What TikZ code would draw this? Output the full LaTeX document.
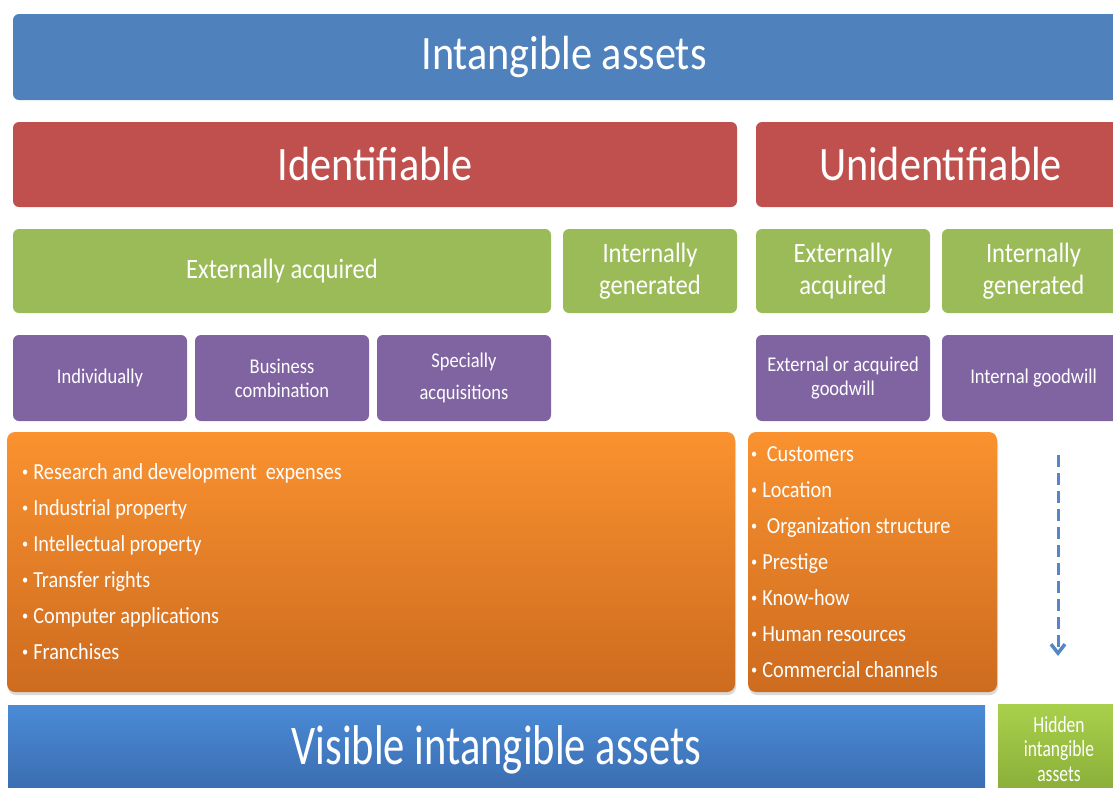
\documentclass[tikz,border=0pt]{standalone}
\usepackage{fontspec}
\setmainfont{Carlito}[FakeStretch=0.88]
\newfontfamily\narrowfont{Carlito}[FakeStretch=0.76]
\usetikzlibrary{arrows.meta,shadows}
\definecolor{titleblue}{HTML}{4F81BD}
\definecolor{groupred}{HTML}{C0504D}
\definecolor{kindgreen}{HTML}{9BBB59}
\definecolor{waypurple}{HTML}{8064A2}
\definecolor{listtop}{HTML}{FA922F}
\definecolor{listbottom}{HTML}{CD6B1F}
\definecolor{visibletop}{HTML}{4A8BD6}
\definecolor{visiblebottom}{HTML}{3A6BAE}
\definecolor{hiddentop}{HTML}{A9D04C}
\definecolor{hiddenbottom}{HTML}{89AD38}
\definecolor{arrowblue}{HTML}{5587C6}
\newcommand{\itemdot}{\raisebox{3pt}{\fontsize{14}{14}\selectfont\textbullet}\hspace{5pt}}
\begin{document}
\begin{tikzpicture}
    [
        x=1pt, y=-1pt,
        box/.style={rectangle, rounded corners=6pt, text=white, align=center, inner sep=0pt},
        group/.style={box, fill=groupred, minimum height=85pt, font=\fontsize{48}{50}\selectfont},
        kind/.style={box, fill=kindgreen, minimum height=84pt, font=\fontsize{28}{32}\selectfont},
        way/.style={box, fill=waypurple, minimum width=174pt, minimum height=86pt, font=\fontsize{21}{24}\selectfont},
        listbox/.style={box, rounded corners=8pt, top color=listtop, bottom color=listbottom, minimum height=260pt,
            drop shadow={shadow xshift=1pt, shadow yshift=-3pt, opacity=0.3}},
        items/.style={text=white, align=left, inner sep=0pt, anchor=west, font=\fontsize{23}{36}\selectfont},
        hidden/.style={dash pattern=on 12pt off 6pt, line width=3pt, draw=arrowblue}
    ]
    \clip (0,0) rectangle (1113,787);
    % top
    \node[box, fill=titleblue, minimum width=1112pt, minimum height=86pt, font=\fontsize{48}{50}\selectfont] (intangible) at (569,57) {Intangible assets\hspace*{10pt}};
    % identifiable / unidentifiable
    \node[group, minimum width=724pt] (ident) at (375,164.5) {Identifiable};
    \node[group, minimum width=369pt] (unident) at (940.5,164.5) {Unidentifiable};
    % how obtained
    \node[kind, minimum width=538pt] (identext) at (282,271) {Externally acquired};
    \node[kind, minimum width=174pt] (identint) at (650,271) {Internally\\generated};
    \node[kind, minimum width=174pt] (unidentext) at (843,271) {Externally\\acquired};
    \node[kind, minimum width=183pt] (unidentint) at (1033.5,271) {Internally\\generated};
    % ways
    \node[way] (single) at (100,378) {Individually};
    \node[way] (business) at (282,378) {Business\\combination};
    \node[way] (special) at (464,378) {Specially\\[8pt]acquisitions};
    \node[way] (extgoodwill) at (843,378) {External or acquired\\goodwill};
    \node[way, minimum width=183pt] (intgoodwill) at (1033.5,378) {Internal goodwill};
    % lists
    \node[listbox, minimum width=728pt] (identlist) at (371,562) {};
    \node[items] (identitems) at (22,562) {\itemdot Research and development\ \ expenses\\
        \itemdot Industrial property\\
        \itemdot Intellectual property\\
        \itemdot Transfer rights\\
        \itemdot Computer applications\\
        \itemdot Franchises};
    \node[listbox, minimum width=249pt] (unidentlist) at (872.5,562) {};
    \node[items] (unidentitems) at (751,562) {\itemdot\ Customers\\
        \itemdot Location\\
        \itemdot\ Organization structure\\
        \itemdot Prestige\\
        \itemdot Know-how\\
        \itemdot Human resources\\
        \itemdot Commercial channels};
    % hidden arrow
    \coordinate (hiddentop) at (1058,455);
    \coordinate (hiddenend) at (1058,656);
    \draw[hidden, -{Straight Barb[length=9pt, width=14pt, line width=3.5pt]}] (hiddentop) -- (hiddenend);
    % bottom
    \node[rectangle, inner sep=0pt, top color=visibletop, bottom color=visiblebottom, text=white,
        minimum width=977pt, minimum height=90pt, font=\narrowfont\fontsize{56}{58}\selectfont] (visible) at (496.5,750) {Visible intangible assets};
    \node[rectangle, inner sep=0pt, top color=hiddentop, bottom color=hiddenbottom, text=white, align=center,
        minimum width=122pt, minimum height=90pt, font=\narrowfont\fontsize{23}{24.5}\selectfont] (invisible) at (1059,749) {Hidden\\intangible\\assets};
\end{tikzpicture}
\end{document}
